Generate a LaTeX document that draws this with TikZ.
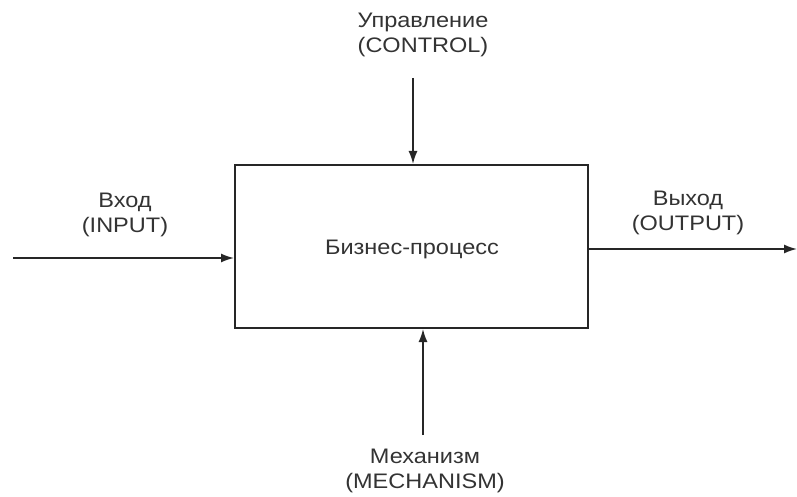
\documentclass[tikz,border=0pt]{standalone}
\usepackage{fontspec}
\setmainfont[FakeStretch=1.12]{Liberation Sans}
\usetikzlibrary{arrows.meta}
\begin{document}
\begin{tikzpicture}[x=1pt,y=-1pt,
  lbl/.style={align=center,font=\fontsize{21}{25.5}\selectfont,text=black!80,inner sep=0pt},
  flow/.style={line width=1.6pt,draw=black!85,-{Latex[length=13pt,width=9pt]}},
  procbox/.style={draw=black!85,line width=2pt,minimum width=353pt,minimum height=163pt,inner sep=0pt}]
  \useasboundingbox (0,0) rectangle (797,497);
  % the activity box
  \node[procbox] (proc) at (411.5,246.5) {};
  \node[lbl] (ptxt) at (412,249) {Бизнес-процесс};
  % free ends of the four arrows
  \coordinate (cin)  at (13,258);
  \coordinate (cout) at (797,249);
  \coordinate (cctl) at (413,78);
  \coordinate (cmec) at (423,435);
  % arrows
  \draw[flow] (cin) -- (cin -| proc.west);
  \draw[flow] (cout -| proc.east) -- (cout);
  \draw[flow] (cctl) -- (cctl |- proc.north);
  \draw[flow] (cmec) -- (cmec |- proc.south);
  % labels
  \node[lbl] (lctl) at (423,35) {Управление\\(CONTROL)};
  \node[lbl] (lin)  at (125,215) {Вход\\(INPUT)};
  \node[lbl] (lout) at (688,213) {Выход\\(OUTPUT)};
  \node[lbl] (lmec) at (425,471) {Механизм\\(MECHANISM)};
\end{tikzpicture}
\end{document}
